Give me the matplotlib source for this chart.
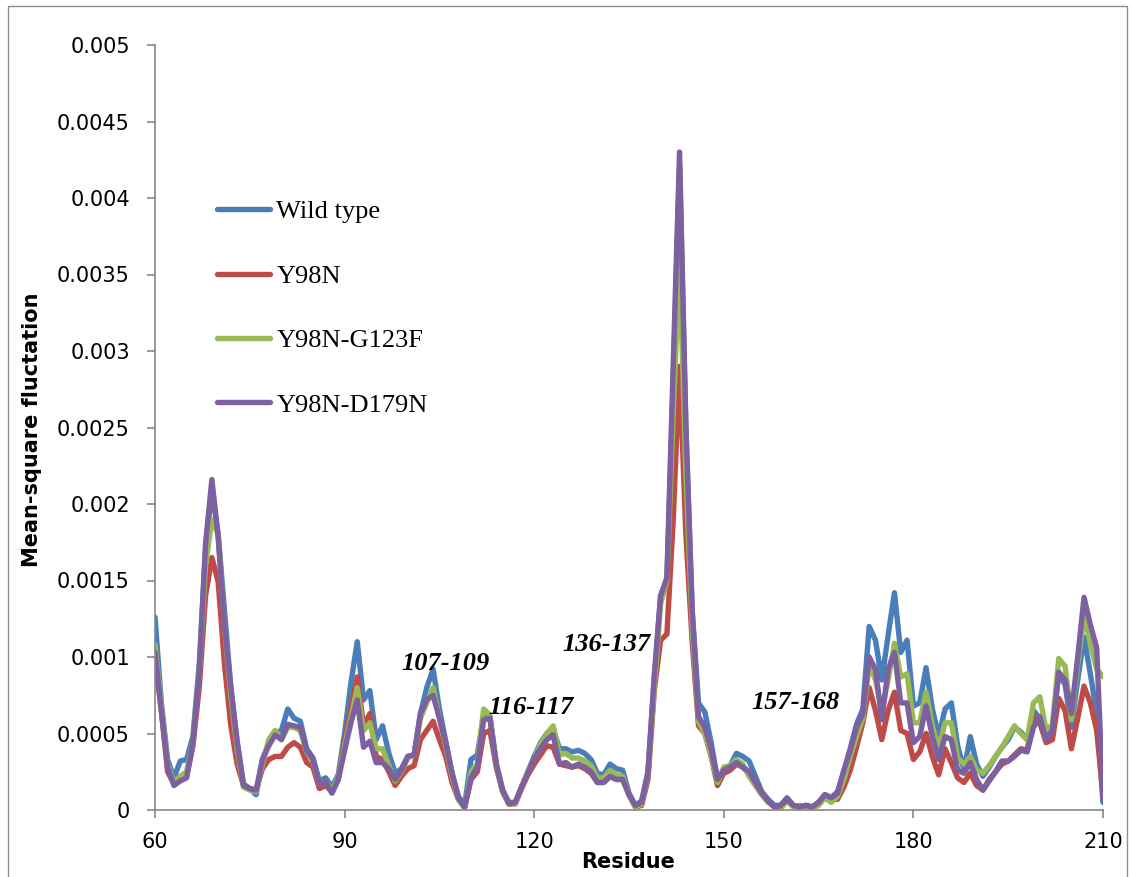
import matplotlib
matplotlib.use("Agg")
import matplotlib.pyplot as plt
from matplotlib.patches import Rectangle
from matplotlib import font_manager

residues = list(range(60, 211))

wild_type = [
    0.00126, 0.0007, 0.00033, 0.00021, 0.00032, 0.00033, 0.00048, 0.00095, 0.0017, 0.0021,
    0.0018, 0.0013, 0.0008, 0.00045, 0.00017, 0.00014, 0.0001, 0.00033, 0.00043, 0.0005,
    0.00052, 0.00066, 0.0006, 0.00058, 0.0004, 0.00034, 0.00019, 0.00021, 0.00015, 0.00023,
    0.0005, 0.00083, 0.0011, 0.00072, 0.00078, 0.00046, 0.00055, 0.00037, 0.00024, 0.00027,
    0.00035, 0.00036, 0.00063, 0.0008, 0.00092, 0.00066, 0.00045, 0.00024, 0.00009, 0.00003,
    0.00033, 0.00036, 0.00062, 0.0006, 0.0003, 0.00013, 0.00005, 0.00005, 0.00015, 0.00025,
    0.00035, 0.00044, 0.0005, 0.00053, 0.0004, 0.0004, 0.00038, 0.00039, 0.00037, 0.00033,
    0.00024, 0.00023, 0.0003, 0.00027, 0.00026, 0.00011, 0.00003, 0.00006, 0.00025, 0.00085,
    0.0014, 0.0015, 0.0028, 0.0042, 0.0025, 0.0013, 0.0007, 0.00064, 0.00044, 0.0002,
    0.00025, 0.00029, 0.00037, 0.00035, 0.00032, 0.00022, 0.00012, 0.00007, 0.00003, 0.00003,
    0.00008, 0.00003, 0.00002, 0.00003, 0.00002, 0.00005, 0.0001, 0.00008, 0.00012, 0.00025,
    0.0004, 0.00056, 0.00066, 0.0012, 0.00111, 0.00085, 0.00114, 0.00142, 0.00103, 0.00111,
    0.00068, 0.0007, 0.00093, 0.00066, 0.00048, 0.00066, 0.0007, 0.00042, 0.00026, 0.00048,
    0.0003, 0.00022, 0.00028, 0.00035, 0.00041, 0.00046, 0.00054, 0.00051, 0.00046, 0.00065,
    0.0006, 0.00048, 0.00054, 0.00089, 0.00082, 0.00054, 0.00085, 0.00113, 0.00089, 0.00063,
    0.00005,
]

y98n = [
    0.001, 0.00065, 0.00025, 0.00017, 0.0002, 0.00022, 0.00042, 0.0008, 0.0014, 0.00165,
    0.00149, 0.00095, 0.00055, 0.0003, 0.00016, 0.00014, 0.00013, 0.00027, 0.00033, 0.00035,
    0.00035, 0.00041, 0.00044, 0.00041, 0.00031, 0.00028, 0.00014, 0.00016, 0.00012, 0.0002,
    0.00045, 0.00066, 0.00087, 0.00055, 0.00063, 0.00035, 0.00033, 0.00025, 0.00016, 0.00022,
    0.00027, 0.00029, 0.00046, 0.00052, 0.00058, 0.00046, 0.00035, 0.00018, 0.00007, 0.00002,
    0.0002, 0.00025, 0.0005, 0.00052, 0.00028, 0.00012, 0.00004, 0.00004, 0.00014, 0.00023,
    0.0003, 0.00036, 0.00042, 0.00041, 0.0003, 0.00029, 0.00028, 0.00029, 0.00027, 0.00024,
    0.00018, 0.00018, 0.00022, 0.0002, 0.0002, 0.0001, 0.00002, 0.00003, 0.0002, 0.00078,
    0.00111, 0.00115, 0.0019, 0.0029, 0.0018, 0.0011, 0.00055, 0.0005, 0.00035, 0.00016,
    0.00024, 0.00026, 0.0003, 0.00028, 0.00024, 0.00018, 0.00011, 0.00006, 0.00002, 0.00003,
    0.00007, 0.00003, 0.00002, 0.00003, 0.00002, 0.00004, 0.00009, 0.00007, 0.00007, 0.00015,
    0.00026, 0.00041, 0.00057, 0.0008, 0.00065, 0.00046, 0.00065, 0.00077, 0.00052, 0.0005,
    0.00033, 0.00038, 0.0005, 0.00035, 0.00023, 0.0004, 0.00031, 0.00021, 0.00018, 0.00024,
    0.00016, 0.00013, 0.0002, 0.00025, 0.0003, 0.00032, 0.00036, 0.0004, 0.00039, 0.00061,
    0.00057, 0.00044, 0.00046, 0.00073, 0.00065, 0.0004, 0.0006, 0.00081, 0.0007, 0.00052,
    0.0001,
]

y98n_g123f = [
    0.00108, 0.00068, 0.0003, 0.00018, 0.00022, 0.00025, 0.00045, 0.0009, 0.0016, 0.0019,
    0.0018, 0.0012, 0.00075, 0.0004, 0.00015, 0.00013, 0.00012, 0.0003, 0.00046, 0.00052,
    0.00046, 0.00054, 0.00054, 0.00052, 0.00038, 0.00032, 0.00017, 0.00018, 0.00013, 0.00021,
    0.00042, 0.0006, 0.0008, 0.00052, 0.00057, 0.0004, 0.0004, 0.00029, 0.00019, 0.00025,
    0.00034, 0.00036, 0.0006, 0.0007, 0.0008, 0.0006, 0.00042, 0.00022, 0.00007, 0.00001,
    0.00025, 0.0003, 0.00066, 0.00062, 0.0003, 0.00012, 0.00004, 0.00004, 0.00015, 0.00025,
    0.00034, 0.00043, 0.0005, 0.00055, 0.00036, 0.00037, 0.00034, 0.00034, 0.00032, 0.00029,
    0.00021, 0.00021, 0.00026, 0.00023, 0.00022, 0.0001, 0.00002, 0.00004, 0.00023, 0.0008,
    0.00135, 0.0015, 0.0026, 0.0036, 0.0022, 0.0012, 0.00058, 0.0005, 0.00036, 0.00018,
    0.00028, 0.00029, 0.00033, 0.0003, 0.00022, 0.00016, 0.0001, 0.00005, 0.00002, 0.00001,
    0.00006, 0.00002, 0.00003, 0.00002, 0.00001, 0.00003, 0.00008, 0.00005, 0.00009, 0.0002,
    0.00035, 0.00048, 0.0006, 0.00095, 0.00085, 0.00065, 0.00085, 0.00109, 0.00087, 0.00089,
    0.00057, 0.00057, 0.00077, 0.00055, 0.0004, 0.00057, 0.00057, 0.00034, 0.0003, 0.00035,
    0.00026, 0.00024, 0.00029, 0.00035, 0.00041, 0.00048, 0.00055, 0.0005, 0.00046, 0.0007,
    0.00074, 0.00052, 0.00056, 0.00099, 0.00094, 0.00059, 0.00095, 0.00127, 0.00109, 0.00092,
    0.00087,
]

y98n_d179n = [
    0.00103, 0.00065, 0.00028, 0.00016, 0.00019, 0.00021, 0.00044, 0.0009, 0.00174, 0.00216,
    0.00178, 0.0012, 0.0008, 0.00044, 0.00016, 0.00014, 0.00013, 0.00033, 0.00042, 0.00049,
    0.00046, 0.00056, 0.00055, 0.00054, 0.00039, 0.00033, 0.00017, 0.00018, 0.00011, 0.0002,
    0.00039, 0.00057, 0.00072, 0.00041, 0.00045, 0.00031, 0.00031, 0.00027, 0.0002, 0.00026,
    0.00035, 0.00036, 0.00063, 0.00072, 0.00075, 0.0006, 0.00044, 0.00024, 0.00008, 0.00002,
    0.00021, 0.00028, 0.00059, 0.0006, 0.0003, 0.00013, 0.00004, 0.00005, 0.00015, 0.00024,
    0.00034, 0.0004, 0.00046, 0.00049, 0.0003, 0.00031, 0.00028, 0.0003, 0.00028, 0.00025,
    0.00018, 0.00018, 0.00022, 0.0002, 0.0002, 0.0001, 0.00003, 0.00005, 0.00024, 0.00088,
    0.0014, 0.00152, 0.0029, 0.0043, 0.0025, 0.0013, 0.00061, 0.00054, 0.0004, 0.0002,
    0.00026, 0.00028, 0.00031, 0.00028, 0.00025, 0.00018, 0.00011, 0.00006, 0.00002, 0.00003,
    0.00007, 0.00003, 0.00002, 0.00003, 0.00002, 0.00005, 0.0001, 0.00008, 0.00011, 0.00026,
    0.00039, 0.00054, 0.00063, 0.001, 0.00092, 0.00059, 0.00092, 0.00103, 0.0007, 0.0007,
    0.00044, 0.00048, 0.00068, 0.00048, 0.00033, 0.00048, 0.00046, 0.00026, 0.00024, 0.00031,
    0.0002, 0.00013, 0.00019, 0.00025, 0.00032, 0.00032, 0.00035, 0.00039, 0.00038, 0.00054,
    0.00061, 0.00046, 0.00052, 0.0009, 0.00085, 0.00063, 0.001, 0.00139, 0.00121, 0.00106,
    0.00007,
]

series_names = ["Wild type", "Y98N", "Y98N-G123F", "Y98N-D179N"]
series_values = [wild_type, y98n, y98n_g123f, y98n_d179n]
colors = ["#4A7EBB", "#BE4B48", "#98B954", "#7D60A0"]

x_ticks = [60, 90, 120, 150, 180, 210]
y_ticks = [0, 0.0005, 0.001, 0.0015, 0.002, 0.0025, 0.003, 0.0035, 0.004, 0.0045, 0.005]
y_tick_labels = ["0", "0.0005", "0.001", "0.0015", "0.002", "0.0025", "0.003",
                 "0.0035", "0.004", "0.0045", "0.005"]

annotations = [("107-109", 106.0, 0.00096), ("116-117", 119.5, 0.00067),
               ("136-137", 131.5, 0.00108), ("157-168", 161.4, 0.00070)]

avail = {f.name for f in font_manager.fontManager.ttflist}
label_font = "Liberation Sans Narrow" if "Liberation Sans Narrow" in avail else "DejaVu Sans"
serif_font = "Liberation Serif"

W, H = 1131, 877
fig = plt.figure(figsize=(W / 100, H / 100), dpi=100)
ax = fig.add_axes([155 / W, 1 - 810 / H, (1103 - 155) / W, (810 - 45) / H])

for name, vals, c in zip(series_names, series_values, colors):
    ax.plot(residues, vals, color=c, lw=3.9, label=name,
            solid_joinstyle="round", solid_capstyle="round")

ax.set_xlim(60, 210)
ax.set_ylim(0, 0.005)
ax.set_xticks(x_ticks)
ax.set_xticklabels([str(t) for t in x_ticks])
ax.set_yticks(y_ticks)
ax.set_yticklabels(y_tick_labels)
for s in ["top", "right"]:
    ax.spines[s].set_visible(False)
for s in ["left", "bottom"]:
    ax.spines[s].set_color("#868686")
    ax.spines[s].set_linewidth(1.2)
ax.tick_params(axis="both", direction="out", length=6, width=1.2, color="#868686",
               labelsize=15, labelcolor="black")
ax.tick_params(axis="y", pad=12)
ax.tick_params(axis="x", pad=10)

for txt, xv, yv in annotations:
    ax.text(xv, yv, txt, ha="center", va="center", fontsize=19,
            fontweight="bold", fontstyle="italic", family=serif_font)

leg = ax.legend(loc="upper left", bbox_to_anchor=(217 / W, 1 - 200 / H),
                bbox_transform=fig.transFigure, frameon=False, borderpad=0,
                borderaxespad=0, handlelength=2.0, handletextpad=0.25,
                labelspacing=1.55, prop={"family": serif_font, "size": 19})
for h in leg.get_lines():
    h.set_linewidth(3.9)
    h.set_solid_capstyle("round")

fig.text(32 / W, 1 - 430 / H, "Mean-square fluctation", rotation=90, ha="center",
         va="center", fontsize=15, fontweight="bold", family=label_font)
fig.text(628 / W, 1 - 862 / H, "Residue", ha="center", va="center",
         fontsize=15, fontweight="bold", family=label_font)

fig.patches.append(Rectangle((8 / W, -0.05), (1127 - 8) / W, 1.05 - 6 / H,
                             transform=fig.transFigure, fill=False,
                             edgecolor="#8C8C8C", lw=1.0))

fig.savefig("out.png", dpi=100)
